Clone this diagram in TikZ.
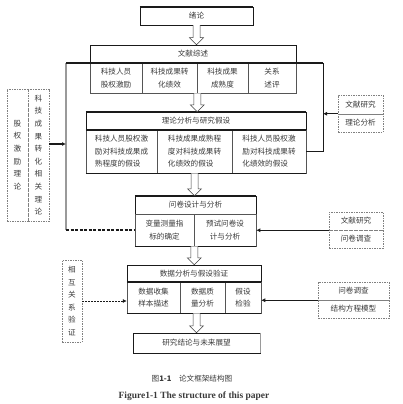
\documentclass[tikz,border=0pt]{standalone}
\usepackage{fontspec}
\setmainfont{Liberation Serif}
\newfontfamily\cjk{Noto Sans CJK SC}
\usepackage{tikz}
\usetikzlibrary{arrows.meta,calc}
\definecolor{boxline}{HTML}{1A1A1A}
\definecolor{cellline}{HTML}{555555}
\definecolor{rulegray}{HTML}{9A9A9A}
\definecolor{dashgray}{HTML}{808080}
\definecolor{textink}{HTML}{3A3A3A}

\tikzset{
  wh/.style 2 args={minimum width=#1pt, minimum height=#2pt},
  box/.style={draw=boxline, line width=0.5pt, inner sep=0pt, align=center,
    text=textink, font=\cjk\fontsize{7.6}{12.6}\selectfont},
  cell/.style={box, draw=cellline},
  refbox/.style={box, draw=dashgray, dashed, dash pattern=on 1.5pt off 1pt},
  thick rule/.style={boxline, line width=1.5pt},
  feed/.style={boxline, line width=1.3pt, -{Latex[length=4pt,width=4pt]}},
  thin feed/.style={boxline, line width=0.6pt, -{Latex[length=4pt,width=4pt]}},
  flow/.style={draw=black!75, fill=white, line width=0.5pt, line join=miter}
}
% hollow block arrow between two points
\newcommand{\flowarrow}[2]{%
  \draw[flow] ($#1+(-3.5,0)$) -- ($#2+(-3.5,-7)$) -- ($#2+(-7,-7)$) -- #2
    -- ($#2+(7,-7)$) -- ($#2+(3.5,-7)$) -- ($#1+(3.5,0)$);}

\begin{document}
\begin{tikzpicture}[x=1pt,y=-1pt,>=Latex]
  \useasboundingbox (0,0) rectangle (403,404);

  % main column
  \node[box, wh={113}{18}] (intro) at (196.5,16) {绪论};

  \node[box, wh={206}{18}] (lit) at (193,54) {文献综述};
  \node[cell, wh={52}{30}] (litA) at (116,78) {科技人员\\股权激励};
  \node[cell, wh={55}{30}] (litB) at (169.5,78) {科技成果转\\化绩效};
  \node[cell, wh={51}{30}] (litC) at (222.5,78) {科技成果\\成熟度};
  \node[cell, wh={48}{30}] (litD) at (272,78) {关系\\述评};

  \node[box, wh={220}{18}] (theory) at (196,121) {理论分析与研究假设};
  \node[cell, wh={71}{43}, align=left] (thA) at (121.5,151.5) {科技人员股权激\\励对科技成果成\\熟程度的假设};
  \node[cell, wh={75}{43}, align=left] (thB) at (194.5,151.5) {科技成果成熟程\\度对科技成果转\\化绩效的假设};
  \node[cell, wh={74}{43}, align=left] (thC) at (269,151.5) {科技人员股权激\\励对科技成果转\\化绩效的假设};

  \node[box, wh={121}{18}] (survey) at (195.5,205) {问卷设计与分析};
  \node[cell, wh={59}{32}] (svA) at (164.5,230) {变量测量指\\标的确定};
  \node[cell, wh={62}{32}] (svB) at (225,230) {预试问卷设\\计与分析};

  \node[box, wh={134}{17}] (data) at (194,273.5) {数据分析与假设验证};
  \node[cell, wh={53}{31}] (dtA) at (153.5,297.5) {数据收集\\样本描述};
  \node[cell, wh={45}{31}] (dtB) at (202.5,297.5) {数据质\\量分析};
  \node[cell, wh={36}{31}] (dtC) at (243,297.5) {假设\\检验};

  \node[box, wh={127}{20}] (concl) at (196.5,343) {研究结论与未来展望};

  % side boxes
  \node[refbox, wh={21}{132}] (thyA) at (17.5,155) {股\\权\\激\\励\\理\\论};
  \node[refbox, wh={21}{132}] (thyB) at (38.5,155) {科\\技\\成\\果\\转\\化\\相\\关\\理\\论};
  \node[refbox, wh={45}{19}] (rsA) at (360.5,104.5) {文献研究};
  \node[refbox, wh={45}{18}] (rsB) at (360.5,123) {理论分析};
  \node[refbox, wh={54}{18}] (qsA) at (356,221) {文献研究};
  \node[refbox, wh={54}{18}] (qsB) at (356,239) {问卷调查};
  \node[refbox, wh={20}{82}] (mutual) at (72,301) {相\\互\\关\\系\\验\\证};
  \node[refbox, wh={71}{18}] (smA) at (353.5,291) {问卷调查};
  \node[refbox, wh={71}{18}] (smB) at (353.5,309) {结构方程模型};

  % heavy edges
  \draw[thick rule] (intro.north west) -- (intro.north east);
  \draw[thick rule] (theory.north west) -- (theory.north east);
  \draw[thick rule] (thA.north west) -- (thC.north east);
  \draw[thick rule] (thA.south west) -- (thC.south east);
  \draw[thick rule] (survey.north west) -- (survey.north east);
  \draw[thick rule] (svA.south west) -- (svB.south east);
  \draw[thick rule] (dtA.north west) -- (dtC.north east);
  \draw[thick rule] (dtA.south west) -- (dtC.south east);
  \draw[rulegray, line width=1.2pt] (concl.north east) -- (concl.south east);

  % feedback brackets
  \coordinate (fbtop) at (66,63);
  \coordinate (brtop) at (323,63);
  \coordinate (fbin) at (66,144);
  \draw[rulegray, line width=1.5pt] (fbtop) -- (fbtop |- svA.west);
  \draw[boxline, line width=1.5pt, dashed, dash pattern=on 3pt off 1.5pt]
    (fbtop |- svA.west) -- (svA.west);
  \draw[thick rule] (fbtop) -- (brtop);
  \draw[boxline, line width=0.6pt] (brtop) -- (brtop |- thC.east) -- (thC.east);

  % inputs
  \draw[feed] (thyB.east |- fbin) -- (fbin);
  \draw[feed] (rsB.north west) -- (rsB.north west -| brtop);
  \draw[feed] (qsA.south west) -- (qsA.south west -| svB.east);
  \draw[thin feed, dashed, dash pattern=on 2pt off 1pt] (mutual.east) -- (mutual.east -| dtA.west);
  \draw[thin feed] (smA.south west) -- (smA.south west -| dtC.east);

  % main flow
  \flowarrow{(intro.south)}{(intro.south |- lit.north)}
  \flowarrow{(litB.south east)}{(litB.south east |- theory.north)}
  \flowarrow{(thB.south)}{(thB.south |- survey.north)}
  \flowarrow{(svA.south east)}{(svA.south east |- data.north)}
  \flowarrow{(concl.north |- dtB.south)}{(concl.north)}

  % caption
  \node[text=textink, font=\cjk\fontsize{7.6}{10}\selectfont] (cap) at (192,379) {图\textbf{1-1}\quad 论文框架结构图};
  \node[text=textink, font=\bfseries\fontsize{9.5}{11}\selectfont] (capen) at (194,396) {Figure1-1 The structure of this paper};
\end{tikzpicture}
\end{document}
